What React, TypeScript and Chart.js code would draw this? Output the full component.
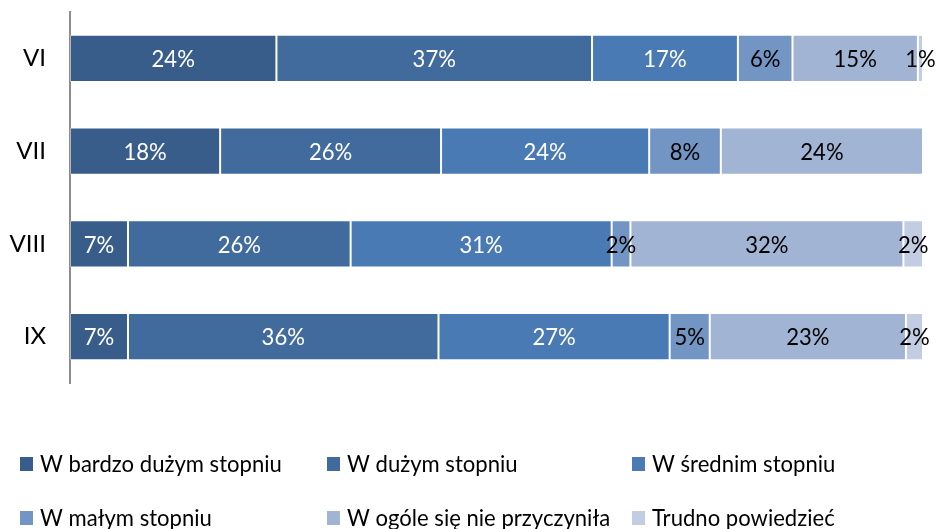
import React, { useEffect, useRef } from "react";
import { Chart, registerables } from "chart.js";

Chart.register(...registerables);

const categories = ["VI", "VII", "VIII", "IX"];
const seriesNames = [
  "W bardzo dużym stopniu",
  "W dużym stopniu",
  "W średnim stopniu",
  "W małym stopniu",
  "W ogóle się nie przyczyniła",
  "Trudno powiedzieć",
];
// Values in percent (labels shown rounded to whole numbers)
const bardzoDuzym = [24.2, 17.6, 6.8, 6.8];
const duzym = [37.0, 25.9, 26.1, 36.4];
const srednim = [17.1, 24.4, 30.6, 27.1];
const malym = [6.4, 8.4, 2.2, 4.7];
const wOgole = [14.7, 23.7, 32.0, 23.0];
const trudno = [0.6, 0, 2.3, 2.0];

const seriesValues = [bardzoDuzym, duzym, srednim, malym, wOgole, trudno];
const colors = ["#395D8A", "#426B9D", "#4A7AB4", "#7395C4", "#A1B4D4", "#C2CCE2"];
const labelColors = ["#ffffff", "#ffffff", "#ffffff", "#000000", "#000000", "#000000"];

const FONT = "Lato, 'Open Sans', sans-serif";
const SQUEEZE = 0.92;

const valueLabels = {
  id: "valueLabels",
  afterDatasetsDraw(chart: any) {
    const ctx = chart.ctx;
    ctx.save();
    ctx.font = `24px ${FONT}`;
    ctx.textAlign = "center";
    ctx.textBaseline = "middle";
    chart.data.datasets.forEach((ds: any, i: number) => {
      const meta = chart.getDatasetMeta(i);
      meta.data.forEach((bar: any, j: number) => {
        const v = ds.data[j];
        if (!v) return;
        const x = (bar.x + bar.base) / 2;
        ctx.save();
        ctx.translate(x, bar.y + 1);
        ctx.scale(SQUEEZE, 1);
        ctx.fillStyle = labelColors[i];
        ctx.fillText(`${Math.round(v)}%`, 0, 0);
        ctx.restore();
      });
    });
    ctx.restore();
  },
};

const legendCols = [20, 327, 632];
const legendRows = [464, 518];

const customLegend = {
  id: "customLegend",
  afterDraw(chart: any) {
    const ctx = chart.ctx;
    ctx.save();
    ctx.font = `24px ${FONT}`;
    ctx.textBaseline = "middle";
    ctx.textAlign = "left";
    chart.data.datasets.forEach((ds: any, i: number) => {
      const x = legendCols[i % 3];
      const y = legendRows[Math.floor(i / 3)];
      ctx.fillStyle = ds.backgroundColor;
      ctx.fillRect(x, y - 7, 13, 14);
      ctx.save();
      ctx.translate(x + 20, y);
      ctx.scale(SQUEEZE, 1);
      ctx.fillStyle = "#000000";
      ctx.fillText(ds.label, 0, 0);
      ctx.restore();
    });
    ctx.restore();
  },
};

export default function App() {
  const ref = useRef<HTMLCanvasElement>(null);
  useEffect(() => {
    if (!ref.current) return;
    const chart = new Chart(ref.current, {
      type: "bar",
      data: {
        labels: categories,
        datasets: seriesNames.map((name, i) => ({
          label: name,
          data: seriesValues[i],
          backgroundColor: colors[i],
          borderColor: "rgba(255,255,255,0.35)",
          borderWidth: 1,
          borderSkipped: false,
          barPercentage: 0.51,
          categoryPercentage: 1,
        })),
      },
      options: {
        indexAxis: "y",
        animation: false,
        responsive: false,
        maintainAspectRatio: false,
        layout: { padding: { top: 12, bottom: 146, left: 0, right: 15 } },
        plugins: {
          legend: { display: false },
          tooltip: { enabled: false },
        },
        scales: {
          x: {
            stacked: true,
            min: 0,
            max: 100,
            display: false,
          },
          y: {
            stacked: true,
            grid: { display: false, drawTicks: false },
            border: { display: true, color: "#8C8C8C", width: 2 },
            ticks: {
              color: "#000000",
              font: { family: FONT, size: 24 },
              padding: 24,
            },
            afterFit(scale: any) {
              scale.width = 70;
              scale.paddingTop = 0;
              scale.paddingBottom = 0;
            },
          },
        },
      },
      plugins: [valueLabels, customLegend],
    });
    return () => chart.destroy();
  }, []);
  return (
    <div style={{ position: "fixed", left: 0, top: 0, width: 938, height: 529, background: "#fff" }}>
      <canvas ref={ref} width={938} height={529} style={{ display: "block" }} />
    </div>
  );
}
